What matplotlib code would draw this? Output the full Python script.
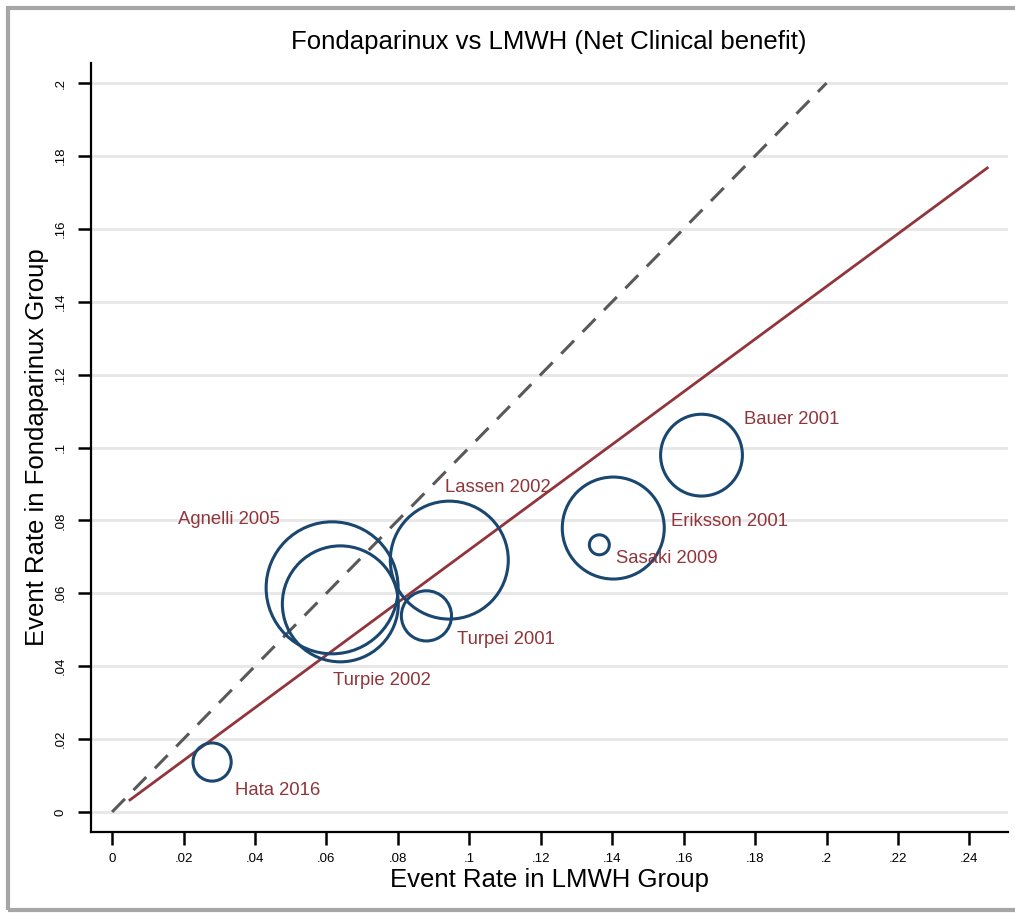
import matplotlib
matplotlib.use("Agg")
import matplotlib.pyplot as plt
from matplotlib.patches import Rectangle
from matplotlib.ticker import FuncFormatter
import numpy as np

plt.rcParams['font.family'] = ['Liberation Sans', 'DejaVu Sans']

# ---- data ----
studies = ["Hata 2016", "Agnelli 2005", "Turpie 2002", "Lassen 2002",
           "Turpei 2001", "Eriksson 2001", "Sasaki 2009", "Bauer 2001"]
rate_lmwh = [0.028, 0.0616, 0.0639, 0.0944, 0.088, 0.1403, 0.1364, 0.165]
rate_fonda = [0.0137, 0.0615, 0.0571, 0.0691, 0.0538, 0.0779, 0.0733, 0.0979]
weights = [2.2, 26.3, 20.3, 21.0, 3.8, 15.7, 0.6, 10.1]
fit_x = [0.005, 0.245]
fit_y = [0.0033, 0.1767]
equal_x = [0.0, 0.2]
equal_y = [0.0, 0.2]
xticks = [0, .02, .04, .06, .08, .1, .12, .14, .16, .18, .2, .22, .24]
yticks = [0, .02, .04, .06, .08, .1, .12, .14, .16, .18, .2]

# label offsets in pixels (dx, dy) from circle centre (left edge / vertical centre of text)
label_offsets = [(23, -28), (-154, 68), (-7, -77), (-4, 73),
                 (31, -24), (58, 7), (17, -14), (43, 36)]

navy = '#1A476F'
maroon = '#90353B'

fig = plt.figure(figsize=(10.15, 9.13), dpi=100)
ax = fig.add_axes([91/1015, 1-832/913, (1008-91)/1015, (832-63)/913])

# grid
for yv in yticks:
    ax.axhline(yv, color='#E8E8E8', lw=2.2, zorder=0)

ax.plot(equal_x, equal_y, color='#595959', lw=2.2, dashes=(6, 4), zorder=2)
ax.plot(fit_x, fit_y, color=maroon, lw=2.0, zorder=2)

k = 66 / np.sqrt(26.3)  # px radius per sqrt(weight)
for xv, yv, w, name, (dx, dy) in zip(rate_lmwh, rate_fonda, weights, studies, label_offsets):
    r_px = k * np.sqrt(w)
    d_pt = 2 * r_px * 72 / 100
    ax.scatter([xv], [yv], s=d_pt**2, facecolors='none', edgecolors=navy,
               linewidths=2.2, zorder=3)
    ax.annotate(name, (xv, yv), xytext=(dx, dy), textcoords='offset pixels',
                color=maroon, fontsize=13.3, ha='left', va='center', zorder=4)

ax.set_xlim(-0.0059, 0.2508)
ax.set_ylim(-0.0055, 0.2055)
ax.set_xticks(xticks)
ax.set_yticks(yticks)

def fmt(v, pos=None):
    if abs(v) < 1e-12:
        return "0"
    s = ("%.2f" % v).rstrip('0')
    if s.startswith('0'):
        s = s[1:]
    return s

ax.xaxis.set_major_formatter(FuncFormatter(fmt))
ax.yaxis.set_major_formatter(FuncFormatter(fmt))
ax.tick_params(axis='both', direction='out', length=9.4, width=1.8, labelsize=9.5)
ax.tick_params(axis='x', pad=6)
ax.tick_params(axis='y', pad=8)
plt.setp(ax.get_yticklabels(), rotation=90, va='center')

for side in ['top', 'right']:
    ax.spines[side].set_visible(False)
for side in ['left', 'bottom']:
    ax.spines[side].set_linewidth(1.6)

ax.set_xlabel("Event Rate in LMWH Group", fontsize=18.5, labelpad=2)
ax.set_ylabel("Event Rate in Fondaparinux Group", fontsize=18.5, labelpad=4)
fig.text(549/1015, 1-42/913, "Fondaparinux vs LMWH (Net Clinical benefit)",
         ha='center', va='center', fontsize=18.5)

# outer frame (extends past right edge)
fig.patches.append(Rectangle((8/1015, 1-910/913), 1.1, (910-8)/913,
                             transform=fig.transFigure, fill=False,
                             edgecolor='#A6A6A6', lw=3, clip_on=False))

fig.savefig("out.png", dpi=100)
